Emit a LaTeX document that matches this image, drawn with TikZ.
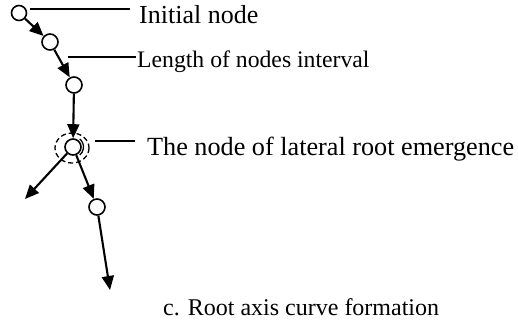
\documentclass[tikz,border=0pt]{standalone}
\usepackage{fontspec}
\setmainfont{Liberation Serif}
\usetikzlibrary{arrows.meta}
\tikzset{
  rnode/.style={circle, draw, fill=white, line width=1.6pt, minimum size=16pt, inner sep=0pt},
  growarrow/.style={line width=2.1pt, -{Triangle[length=14pt,width=12pt]}},
  leader/.style={line width=1.5pt},
  lbl/.style={inner sep=0pt, anchor=base west}
}
\begin{document}
\begin{tikzpicture}[x=1pt,y=-1pt]
\useasboundingbox (0,0) rectangle (518,324);
% nodes
\node[rnode, minimum size=15pt] (n1) at (19,13) {};
\node[rnode] (n2) at (50,42) {};
\node[rnode] (n3) at (74,85) {};
\node[rnode] (n4) at (73,147) {};
\node[rnode] (n5) at (97,207) {};
\coordinate (e1) at (25,199);
\coordinate (e2) at (110,290);
% dashed marker around lateral root node
\draw[line width=1.3pt, dash pattern=on 5pt off 3pt] (72,148) ellipse [x radius=17, y radius=15];
\draw[line width=1.3pt] ([shift={(-50:10.5)}]73,147) arc[start angle=-50, end angle=50, radius=10.5];
% arrows
\draw[growarrow] (n1) -- (n2);
\draw[growarrow] (n2) -- (n3);
\draw[growarrow] (n3) -- (n4);
\draw[growarrow] (n4) -- (n5);
\draw[growarrow] (n5) -- (e2);
\draw[growarrow] (n4) -- (e1);
% labels
\node[lbl, font=\fontsize{26}{30}\selectfont] (l1) at (139,23) {Initial node};
\node[lbl, font=\fontsize{23.7}{28}\selectfont] (l2) at (137,67) {Length of nodes interval};
\node[lbl, font=\fontsize{26.2}{30}\selectfont] (l3) at (147,155) {The node of lateral root emergence};
\node[lbl, font=\fontsize{24}{28}\selectfont] (cap) at (163,315) {c. Root axis curve formation};
% leader lines
\coordinate (a1) at (30,9);
\coordinate (b1) at (130,9);
\coordinate (a2) at (68,57);
\coordinate (b2) at (136,57);
\coordinate (a3) at (95,141);
\coordinate (b3) at (135,141);
\draw[leader] (a1) -- (b1);
\draw[leader] (a2) -- (b2);
\draw[leader] (a3) -- (b3);
\end{tikzpicture}
\end{document}
